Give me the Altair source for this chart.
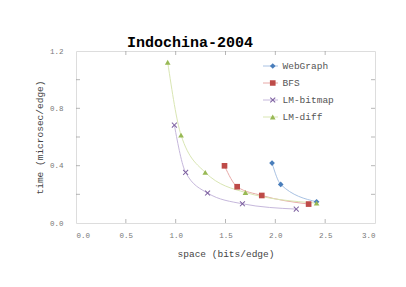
import altair as alt
import pandas as pd

series = ["WebGraph", "BFS", "LM-bitmap", "LM-diff"]
webgraph_x = [1.967, 2.054, 2.414]
webgraph_y = [0.418, 0.269, 0.148]
bfs_x = [1.49, 1.617, 1.864, 2.334]
bfs_y = [0.399, 0.253, 0.192, 0.132]
bitmap_x = [0.987, 1.10, 1.32, 1.67, 2.21]
bitmap_y = [0.683, 0.353, 0.209, 0.134, 0.097]
diff_x = [0.92, 1.054, 1.297, 1.70, 2.414]
diff_y = [1.122, 0.613, 0.353, 0.213, 0.139]

x_ticks = [0.5, 1.0, 1.5, 2.0, 2.5]
y_ticks = [0.2, 0.4, 0.6, 0.8, 1.0]

marker_colors = ["#4a7ebb", "#be4b48", "#7d60a0", "#98b954"]
line_colors = ["#a9c2e3", "#e8a9a7", "#c6b8dc", "#d9e6b3"]
x_shape = "M-1,-0.75L-0.75,-1L0,-0.25L0.75,-1L1,-0.75L0.25,0L1,0.75L0.75,1L0,0.25L-0.75,1L-1,0.75L-0.25,0Z"
shapes = ["diamond", "square", x_shape, "triangle-up"]

rows = []
for name, xs, ys in [("WebGraph", webgraph_x, webgraph_y), ("BFS", bfs_x, bfs_y),
                     ("LM-bitmap", bitmap_x, bitmap_y), ("LM-diff", diff_x, diff_y)]:
    for i, (a, b) in enumerate(zip(xs, ys)):
        rows.append({"series": name, "line": name + " ", "space": a, "time": b, "i": i})
df = pd.DataFrame(rows)
line_domain = [s + " " for s in series]

W, H = 299, 172
FONT = "'Courier New', 'Liberation Mono', 'Nimbus Mono PS', monospace"

xscale = alt.Scale(domain=[0, 3], nice=False)
yscale = alt.Scale(domain=[0, 1.2], nice=False)

xax = alt.Axis(values=[0, 0.5, 1, 1.5, 2, 2.5, 3], format=".1f", ticks=False, domain=False, grid=False,
               labelPadding=8, labelFontSize=7.5, labelColor="#777", labelFont=FONT,
               title="space (bits/edge)", titleFont=FONT, titleFontSize=9.5, titleFontWeight="normal",
               titleColor="#444", titlePadding=10)
yax = alt.Axis(values=[0, 0.2, 0.4, 0.6, 0.8, 1.0, 1.2], format=".1f", ticks=False, domain=False, grid=False,
               labelPadding=13, labelFontSize=7.5, labelColor="#777", labelFont=FONT,
               title="time (microsec/edge)", titleFont=FONT, titleFontSize=9.5, titleFontWeight="normal",
               titleColor="#444", titlePadding=5)

lines = alt.Chart(df).mark_line(interpolate="monotone", strokeWidth=1).encode(
    x=alt.X("space:Q", scale=xscale, axis=xax),
    y=alt.Y("time:Q", scale=yscale, axis=yax),
    stroke=alt.Stroke("line:N", scale=alt.Scale(domain=line_domain, range=line_colors),
                      legend=alt.Legend(title=None, orient="none", legendX=186.5, legendY=9,
                                        symbolType="stroke", symbolSize=225, symbolStrokeWidth=1,
                                        labelExpr="''", clipHeight=12, rowPadding=5)),
    order="i:Q",
)

points = alt.Chart(df).mark_point(filled=True, size=32, opacity=1).encode(
    x=alt.X("space:Q", scale=xscale),
    y=alt.Y("time:Q", scale=yscale),
    color=alt.Color("series:N", scale=alt.Scale(domain=series, range=marker_colors),
                    legend=alt.Legend(title=None, orient="none", legendX=192, legendY=9,
                                      symbolSize=32, symbolOpacity=1, labelOffset=5,
                                      labelFont=FONT, labelFontSize=9.5, labelColor="#555",
                                      clipHeight=12, rowPadding=5)),
    shape=alt.Shape("series:N", scale=alt.Scale(domain=series, range=shapes)),
)

xt = pd.DataFrame({"v": x_ticks})
yt = pd.DataFrame({"v": y_ticks})
tick_style = dict(color="#999", size=4, thickness=1)
xb = alt.Chart(xt).mark_tick(orient="vertical", **tick_style).encode(
    x=alt.X("v:Q", scale=xscale), y=alt.value(H - 2))
xtp = alt.Chart(xt).mark_tick(orient="vertical", **tick_style).encode(
    x=alt.X("v:Q", scale=xscale), y=alt.value(2))
yl = alt.Chart(yt).mark_tick(orient="horizontal", **tick_style).encode(
    y=alt.Y("v:Q", scale=yscale), x=alt.value(2))
yr = alt.Chart(yt).mark_tick(orient="horizontal", **tick_style).encode(
    y=alt.Y("v:Q", scale=yscale), x=alt.value(W - 2))

chart = alt.layer(xb, xtp, yl, yr, lines, points).properties(
    width=W, height=H,
    title=alt.TitleParams("Indochina-2004", font=FONT, fontSize=15, fontWeight="bold",
                          color="#000", anchor="start", frame="group", dx=51, dy=7, offset=4),
    autosize=alt.AutoSizeParams(type="none"),
    padding={"left": 68, "top": 43, "right": 23, "bottom": 48},
).configure_view(stroke="#aaa", strokeWidth=1).configure(background="white")

chart.save("out.html", embed_options={"renderer": "svg", "actions": False})
